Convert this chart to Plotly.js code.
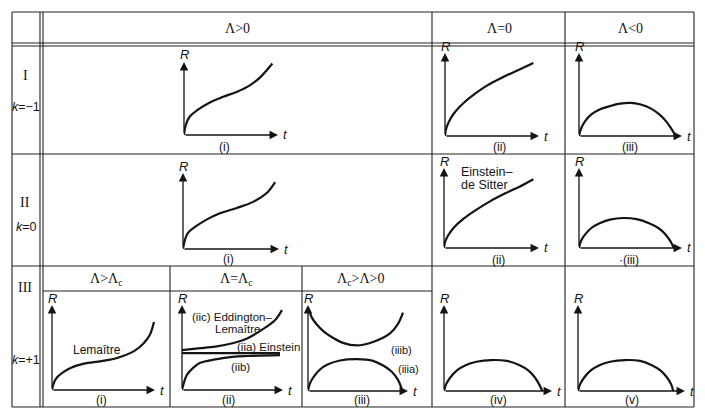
<!DOCTYPE html>
<html><head><meta charset="utf-8">
<script src="https://cdn.plot.ly/plotly-3.0.1.min.js"></script>
<style>html,body{margin:0;padding:0;background:#fff}#chart{width:705px;height:419px}</style>
</head><body><div id="chart"></div>
<script>
// ---------- DATA (normalised t and R) ----------
const colHeaders = ['Λ>0', 'Λ=0', 'Λ<0'];
const subHeaders = ['Λ>Λ<sub>c</sub>', 'Λ=Λ<sub>c</sub>', 'Λ<sub>c</sub>>Λ>0'];
const rowLabels = ['I', 'II', 'III'];
const kLabels = ['<i>k</i>=−1', '<i>k</i>=0', '<i>k</i>=+1'];
const panelLabels = ['(i)', '(ii)', '(iii)', '(i)', '(ii)', '·(iii)', '(i)', '(ii)', '(iii)', '(iv)', '(v)'];

// Row I, Λ>0
const I1_t = [0, 0.02, 0.06, 0.14, 0.28, 0.41, 0.56, 0.70, 0.81, 0.94];
const I1_R = [0, 0.14, 0.25, 0.34, 0.45, 0.52, 0.59, 0.68, 0.79, 0.98];
// Row I, Λ=0
const I2_t = [0, 0.01, 0.04, 0.10, 0.20, 0.32, 0.45, 0.60, 0.77, 0.94];
const I2_R = [0, 0.08, 0.17, 0.28, 0.40, 0.51, 0.61, 0.70, 0.79, 0.88];
// Row I, Λ<0
const I3_t = [0, 0.02, 0.06, 0.12, 0.20, 0.30, 0.40, 0.50, 0.60, 0.70, 0.78, 0.85, 0.89, 0.92, 0.93];
const I3_R = [0, 0.09, 0.18, 0.26, 0.32, 0.36, 0.39, 0.40, 0.38, 0.33, 0.26, 0.17, 0.10, 0.04, 0];
// Row II, Λ>0
const II1_t = [0, 0.02, 0.05, 0.125, 0.25, 0.385, 0.56, 0.73, 0.875, 0.96];
const II1_R = [0, 0.12, 0.21, 0.29, 0.39, 0.47, 0.54, 0.62, 0.74, 0.88];
// Row II, Λ=0 (Einstein–de Sitter)
const II2_t = [0, 0.01, 0.04, 0.10, 0.20, 0.33, 0.48, 0.64, 0.80, 0.94];
const II2_R = [0, 0.07, 0.15, 0.25, 0.36, 0.47, 0.58, 0.68, 0.77, 0.86];
// Row II, Λ<0
const II3_t = [0, 0.02, 0.06, 0.12, 0.20, 0.30, 0.43, 0.56, 0.68, 0.77, 0.84, 0.89, 0.92];
const II3_R = [0, 0.09, 0.17, 0.25, 0.31, 0.355, 0.375, 0.36, 0.31, 0.25, 0.17, 0.08, 0];
// Row III (i) Lemaître
const III1_t = [0, 0.02, 0.05, 0.11, 0.18, 0.31, 0.48, 0.64, 0.80, 0.89, 0.95, 0.99];
const III1_R = [0, 0.09, 0.15, 0.21, 0.26, 0.31, 0.34, 0.38, 0.46, 0.55, 0.65, 0.80];
// Row III (ii)
const IIIiic_t = [0, 0.16, 0.33, 0.50, 0.65, 0.82, 0.92, 0.99];
const IIIiic_R = [0.47, 0.49, 0.51, 0.55, 0.61, 0.73, 0.82, 0.94];
const IIIiia_t = [0, 0.97];
const IIIiia_R = [0.435, 0.435];
const IIIiib_t = [0, 0.02, 0.05, 0.11, 0.18, 0.33, 0.50, 0.65, 0.97];
const IIIiib_R = [0, 0.09, 0.18, 0.26, 0.32, 0.36, 0.39, 0.40, 0.41];
// Row III (iii)
const IIIiiib_t = [0.01, 0.04, 0.09, 0.15, 0.22, 0.35, 0.49, 0.65, 0.82, 0.90, 0.95];
const IIIiiib_R = [0.94, 0.85, 0.77, 0.70, 0.64, 0.56, 0.53, 0.57, 0.67, 0.78, 0.91];
const IIIiiia_t = [0, 0.02, 0.06, 0.12, 0.20, 0.32, 0.49, 0.65, 0.76, 0.84, 0.90, 0.93, 0.94];
const IIIiiia_R = [0, 0.09, 0.17, 0.25, 0.31, 0.355, 0.37, 0.35, 0.29, 0.22, 0.13, 0.05, 0];
// Row III (iv)
const III4_t = [0, 0.02, 0.06, 0.12, 0.20, 0.30, 0.44, 0.58, 0.70, 0.78, 0.84, 0.88, 0.91];
const III4_R = [0, 0.08, 0.16, 0.24, 0.30, 0.34, 0.36, 0.35, 0.30, 0.24, 0.16, 0.08, 0];
// Row III (v)
const III5_t = [0, 0.02, 0.06, 0.12, 0.20, 0.30, 0.44, 0.58, 0.69, 0.77, 0.83, 0.87, 0.89];
const III5_R = [0, 0.08, 0.16, 0.24, 0.30, 0.34, 0.36, 0.35, 0.30, 0.24, 0.16, 0.08, 0];

// ---------- LAYOUT ----------
const W = 705, H = 419;
const px = x => x / W, py = y => 1 - y / H;
const ink = '#141414';
const sans = 'Liberation Sans, Arial, sans-serif';
const serif = 'Liberation Serif, Times New Roman, serif';

// panel geometry in pixels: origin x, origin y, x-arrow tip, y-arrow top
const panels = [
  {g: [184, 135, 278, 62],  curves: [[I1_t, I1_R]]},
  {g: [445, 136, 539, 53],  curves: [[I2_t, I2_R]]},
  {g: [579, 136, 682, 53],  curves: [[I3_t, I3_R]]},
  {g: [183, 249, 279, 173], curves: [[II1_t, II1_R]]},
  {g: [444, 248, 539, 168], curves: [[II2_t, II2_R]]},
  {g: [579, 248, 682, 168], curves: [[II3_t, II3_R]]},
  {g: [52, 390, 155, 305],  curves: [[III1_t, III1_R]]},
  {g: [182, 390, 283, 305], curves: [[IIIiic_t, IIIiic_R], [IIIiia_t, IIIiia_R], [IIIiib_t, IIIiib_R]]},
  {g: [308, 391, 408, 305], curves: [[IIIiiib_t, IIIiiib_R], [IIIiiia_t, IIIiiia_R]]},
  {g: [444, 391, 552, 305], curves: [[III4_t, III4_R]]},
  {g: [578, 391, 685, 305], curves: [[III5_t, III5_R]]}
];

const traces = [];
const annotations = [];
const shapes = [];
const layout = {
  width: W, height: H, margin: {l: 0, r: 0, t: 0, b: 0},
  paper_bgcolor: '#fff', plot_bgcolor: 'rgba(0,0,0,0)',
  showlegend: false, hovermode: false
};

function text(x, y, s, opt) {
  annotations.push(Object.assign({
    xref: 'paper', yref: 'paper', x: px(x), y: py(y), text: s, showarrow: false,
    xanchor: 'center', yanchor: 'middle',
    font: {family: sans, size: 12, color: ink}
  }, opt || {}));
}

panels.forEach((p, i) => {
  const n = i + 1;
  const xa = n === 1 ? 'x' : 'x' + n, ya = n === 1 ? 'y' : 'y' + n;
  const [ox, oy, tx, ty] = p.g;
  layout[n === 1 ? 'xaxis' : 'xaxis' + n] = {domain: [px(ox), px(tx)], range: [0, 1], visible: false, fixedrange: true, anchor: ya};
  layout[n === 1 ? 'yaxis' : 'yaxis' + n] = {domain: [py(oy), py(ty)], range: [0, 1], visible: false, fixedrange: true, anchor: xa};
  p.curves.forEach(c => traces.push({
    x: c[0], y: c[1], xaxis: xa, yaxis: ya, type: 'scatter', mode: 'lines',
    line: {color: ink, width: 2.2, shape: 'spline', smoothing: 1}, hoverinfo: 'skip'
  }));
  // axis arrows
  [[1, 0], [0, 1]].forEach(([x, y]) => annotations.push({
    xref: xa, yref: ya, axref: xa, ayref: ya, x: x, y: y, ax: 0, ay: 0, text: '',
    showarrow: true, arrowhead: 2, arrowsize: 1.3, arrowwidth: 1.3, arrowcolor: ink
  }));
  text(ox, ty - 7, '<i>R</i>', {font: {family: sans, size: 13, color: ink}});
  text(tx + 7, oy, '<i>t</i>', {font: {family: sans, size: 13, color: ink}});
});

// panel labels
const labelPos = [[224, 147], [499, 147], [630, 147], [228, 259], [498, 260], [629, 260],
                  [101, 400], [228, 400], [362, 400], [498, 400], [632, 400]];
labelPos.forEach((q, i) => text(q[0], q[1], panelLabels[i]));

// curve names
text(459, 172, 'Einstein–', {xanchor: 'left', font: {family: sans, size: 12.5, color: ink}});
text(459, 185, 'de Sitter', {xanchor: 'left', font: {family: sans, size: 12.5, color: ink}});
text(97, 350, 'Lemaître', {font: {family: sans, size: 12, color: ink}});
text(233, 317, '(iic) Eddington–', {font: {family: sans, size: 11.5, color: ink}});
text(237, 329, 'Lemaître', {font: {family: sans, size: 11.5, color: ink}});
text(268, 347, '(iia) Einstein', {font: {family: sans, size: 11.5, color: ink}});
text(240, 367, '(iib)', {font: {family: sans, size: 11.5, color: ink}});
text(401, 350, '(iiib)', {font: {family: sans, size: 11, color: ink}});
text(409, 369, '(iiia)', {font: {family: sans, size: 11, color: ink}});

// headers
const hdrFont = {family: serif, size: 14, color: ink};
[[237, 28], [499, 28], [630, 28]].forEach((q, i) => text(q[0], q[1], colHeaders[i], {font: hdrFont}));
[[106, 279], [236, 279], [360, 279]].forEach((q, i) => text(q[0], q[1], subHeaders[i], {font: hdrFont}));
[[25, 75], [25, 202], [25, 287]].forEach((q, i) => text(q[0], q[1], rowLabels[i], {font: hdrFont}));
[[26, 107], [26, 227], [26, 360]].forEach((q, i) => text(q[0], q[1], kLabels[i], {font: {family: sans, size: 12.5, color: ink}}));

// table rules
function line(x0, y0, x1, y1, w) {
  shapes.push({type: 'line', xref: 'paper', yref: 'paper', x0: px(x0), y0: py(y0), x1: px(x1), y1: py(y1),
    line: {color: '#222', width: w || 1.1}});
}
const L = 12, R = 694, T = 12, B = 407;
line(L, T, R, T); line(L, B, R, B); line(L, T, L, B); line(R, T, R, B);
line(40, T, 40, B); line(43, T, 43, B);
line(L, 43, R, 43); line(L, 46, R, 46);
line(L, 154, R, 154); line(L, 266, R, 266);
line(432, T, 432, B); line(565, T, 565, B);
line(43, 291, 432, 291);
line(170, 266, 170, B); line(302, 266, 302, B);

layout.annotations = annotations;
layout.shapes = shapes;
Plotly.newPlot('chart', traces, layout, {staticPlot: true, displayModeBar: false});
</script></body></html>
